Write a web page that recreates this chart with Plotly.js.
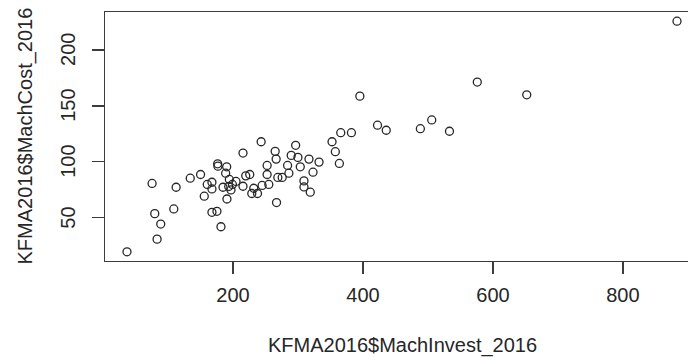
<!DOCTYPE html>
<html>
<head>
<meta charset="utf-8">
<script src="https://cdn.plot.ly/plotly-3.0.1.min.js"></script>
<style>
  html, body { margin: 0; padding: 0; background: #fff; overflow: hidden; }
  #plot { width: 700px; height: 362px; }
</style>
</head>
<body>
<div id="plot"></div>
<script>
// KFMA 2016: machinery investment vs machinery cost per farm
const machInvest = [
  36.9, 75.5, 79.6, 88.8, 83.2, 108.9, 112.5, 134.2, 150.1, 155.8,
  160.4, 167.6, 167.6, 167.6, 175.3, 181.5, 176.4, 176.8, 190.3, 188.7,
  184.6, 190.7, 194.4, 193.4, 196.9, 199.1, 204.6, 215.4, 215.4, 219.6,
  225.8, 228.9, 232.0, 237.7, 243.3, 244.8, 252.5, 252.5, 255.1, 264.9,
  266.4, 267.0, 269.0, 275.7, 284.0, 286.0, 289.6, 296.4, 299.9, 303.5,
  309.2, 309.2, 316.9, 318.9, 323.1, 332.4, 352.4, 357.5, 363.7, 365.8,
  382.2, 395.2, 422.4, 435.8, 488.3, 505.8, 533.1, 575.9, 652.0, 883.2
];
const machCost = [
  19.5, 80.6, 53.6, 44.3, 30.8, 57.8, 77.2, 85.3, 88.6, 69.2,
  79.7, 81.7, 75.7, 54.8, 55.7, 41.9, 98.2, 96.1, 95.5, 89.8,
  77.2, 66.7, 84.2, 77.9, 74.8, 79.7, 82.4, 107.8, 78.1, 87.4,
  88.6, 71.6, 76.3, 71.6, 117.9, 78.8, 96.7, 88.6, 79.7, 109.3,
  102.4, 63.5, 86.0, 86.0, 96.7, 89.8, 105.7, 114.7, 103.9, 95.5,
  82.9, 77.5, 102.4, 72.8, 90.7, 99.7, 117.9, 109.0, 98.5, 126.0,
  126.0, 158.7, 132.7, 128.2, 129.6, 137.4, 127.3, 171.3, 159.9, 225.7
];
const xTicks = [200, 400, 600, 800];
const yTicks = [50, 100, 150, 200];
const xLabel = 'KFMA2016$MachInvest_2016';
const yLabel = 'KFMA2016$MachCost_2016';

// axis limits padded by 4% on each side of the data range
function padded(v) {
  const lo = Math.min(...v), hi = Math.max(...v), d = (hi - lo) * 0.04;
  return [lo - d, hi + d];
}

const ink = '#262626';
const font = { family: 'Liberation Sans, Arial, sans-serif', size: 20, color: ink };

const trace = {
  x: machInvest,
  y: machCost,
  type: 'scatter',
  mode: 'markers',
  marker: { symbol: 'circle-open', size: 8, color: ink, line: { width: 1.3, color: ink } },
  hoverinfo: 'x+y'
};

const axisCommon = {
  showgrid: false,
  zeroline: false,
  showline: true,
  mirror: true,
  linecolor: '#3c3c3c',
  linewidth: 1.3,
  ticks: 'outside',
  tickcolor: '#3c3c3c',
  tickwidth: 1.3,
  tickfont: font,
  tickmode: 'array',
  ticklen: 12,
  automargin: false
};

// plot area: 105..699 px across, 12..261 px down
const plotL = 105, plotW = 594, plotB = 261, plotH = 249;
const px = v => (v - plotL) / plotW;   // page x -> paper x
const py = v => (plotB - v) / plotH;   // page y -> paper y

// y tick labels, rotated to run along the axis
const yTickLabels = yTicks.map(v => ({
  text: String(v), xref: 'paper', yref: 'y', x: px(68), y: v,
  xanchor: 'center', yanchor: 'middle', textangle: -90,
  showarrow: false, font: font
}));

const layout = {
  width: 700,
  height: 362,
  margin: { l: plotL, r: 700 - plotL - plotW, t: 12, b: 362 - plotB },
  paper_bgcolor: '#fff',
  plot_bgcolor: '#fff',
  showlegend: false,
  font: font,
  xaxis: Object.assign({}, axisCommon, {
    range: padded(machInvest),
    tickvals: xTicks,
    ticktext: xTicks.map(String),
    ticklabelstandoff: 4
  }),
  yaxis: Object.assign({}, axisCommon, {
    range: padded(machCost),
    tickvals: yTicks,
    showticklabels: false
  }),
  annotations: yTickLabels.concat([
    {
      text: xLabel, xref: 'paper', yref: 'paper',
      x: 0.5, y: py(345),
      xanchor: 'center', yanchor: 'middle', showarrow: false, font: font
    },
    {
      text: yLabel, xref: 'paper', yref: 'paper', textangle: -90,
      x: px(25), y: 0.5,
      xanchor: 'center', yanchor: 'middle', showarrow: false, font: font
    }
  ])
};

Plotly.newPlot('plot', [trace], layout, { displayModeBar: false, staticPlot: true });
</script>
</body>
</html>
